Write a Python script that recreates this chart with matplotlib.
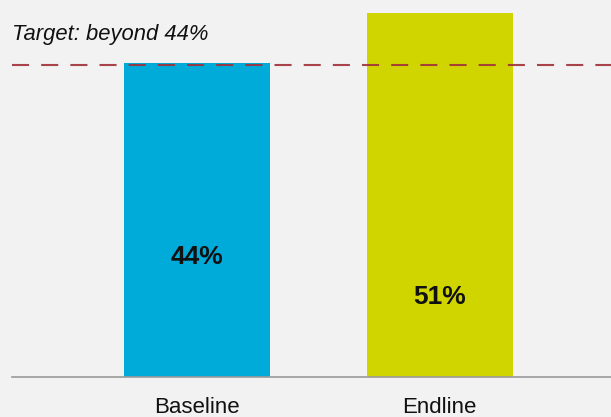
import matplotlib
matplotlib.use("Agg")
import matplotlib.pyplot as plt

plt.rcParams['font.family'] = ['Liberation Sans', 'DejaVu Sans']

# data
categories = ['Baseline', 'Endline']
values = [44, 51]
bar_colors = ['#00aad9', '#d0d500']
label_y = [16.8, 11.2]   # where the value labels sit inside the bars
target = 44

fig = plt.figure(figsize=(6.11, 4.17), dpi=100)
fig.patch.set_facecolor('#f2f2f2')
ax = fig.add_axes([0, 40 / 417, 1, 377 / 417])
ax.set_facecolor('#f2f2f2')

x = range(len(categories))
ax.bar(x, values, width=0.6, color=bar_colors, zorder=2)

for i, v in enumerate(values):
    ax.text(i, label_y[i], f'{v}%', ha='center', va='center',
            fontsize=19, fontweight='bold', color='#111111', zorder=3)

# target line
ax.hlines(target - 0.25, -0.76, 1.705, color='#a0303a', lw=1.5,
          linestyles=(0, (8.2, 5.8)), alpha=0.9, zorder=4)
ax.text(-0.76, 47.9, 'Target: beyond 44%', style='italic', fontsize=15.8,
        ha='left', va='center', color='#111111')

ax.set_xlim(-0.81, 1.705)
ax.set_ylim(0, 52.8)
ax.set_xticks(list(x))
ax.set_xticklabels(categories, fontsize=16, color='#111111')
ax.tick_params(axis='x', length=0, pad=14.5)
ax.set_yticks([])
for s in ['top', 'right', 'left']:
    ax.spines[s].set_visible(False)
ax.spines['bottom'].set_color('#9a9a9a')
ax.spines['bottom'].set_linewidth(1.2)
ax.spines['bottom'].set_bounds(-0.76, 1.705)

fig.savefig('out.png', dpi=100, facecolor=fig.get_facecolor())
